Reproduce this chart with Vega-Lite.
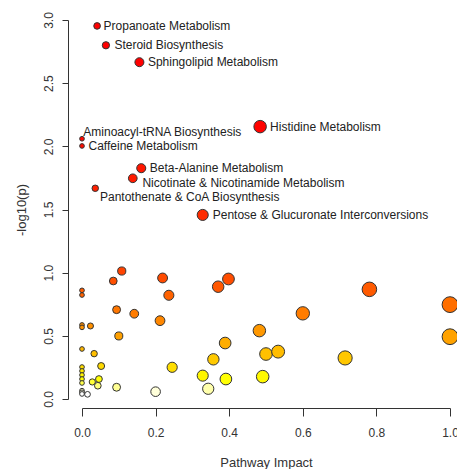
{
  "$schema": "https://vega.github.io/schema/vega-lite/v6.json",
  "autosize": "none",
  "width": 368,
  "height": 379,
  "padding": {"left": 82, "top": 20, "right": 7, "bottom": 70},
  "background": "white",
  "config": {
    "view": {"stroke": null},
    "font": "Liberation Sans",
    "axis": {
      "grid": false,
      "labelFlush": false,
      "labelOverlap": false,
      "domainColor": "#333333",
      "tickColor": "#333333",
      "labelColor": "#333333",
      "titleColor": "#333333",
      "labelFont": "Liberation Sans",
      "titleFont": "Liberation Sans",
      "labelFontSize": 12,
      "titleFontSize": 13,
      "titleFontWeight": "normal",
      "domainWidth": 1,
      "tickWidth": 1
    }
  },
  "data": {
    "values": [
      {"name": "Propanoate Metabolism", "impact": 0.041, "logp": 2.953},
      {"name": "Steroid Biosynthesis", "impact": 0.065, "logp": 2.8},
      {"name": "Sphingolipid Metabolism", "impact": 0.156, "logp": 2.666},
      {"name": "Histidine Metabolism", "impact": 0.484, "logp": 2.156},
      {"name": "Aminoacyl-tRNA Biosynthesis", "impact": 0.0, "logp": 2.06},
      {"name": "Caffeine Metabolism", "impact": 0.0, "logp": 2.003},
      {"name": "Beta-Alanine Metabolism", "impact": 0.161, "logp": 1.827},
      {"name": "Nicotinate & Nicotinamide Metabolism", "impact": 0.138, "logp": 1.747},
      {"name": "Pantothenate & CoA Biosynthesis", "impact": 0.036, "logp": 1.668},
      {"name": "Pentose & Glucuronate Interconversions", "impact": 0.328, "logp": 1.457},
      {"name": "", "impact": 0.085, "logp": 0.934},
      {"name": "", "impact": 0.108, "logp": 1.013},
      {"name": "", "impact": 0.219, "logp": 0.958},
      {"name": "", "impact": 0.236, "logp": 0.821},
      {"name": "", "impact": 0.0, "logp": 0.86},
      {"name": "", "impact": 0.0, "logp": 0.823},
      {"name": "", "impact": 0.094, "logp": 0.707},
      {"name": "", "impact": 0.142, "logp": 0.675},
      {"name": "", "impact": 0.212, "logp": 0.62},
      {"name": "", "impact": 0.0, "logp": 0.586},
      {"name": "", "impact": 0.0, "logp": 0.567},
      {"name": "", "impact": 0.023, "logp": 0.578},
      {"name": "", "impact": 0.1, "logp": 0.499},
      {"name": "", "impact": 0.0, "logp": 0.396},
      {"name": "", "impact": 0.033, "logp": 0.359},
      {"name": "", "impact": 0.052, "logp": 0.261},
      {"name": "", "impact": 0.245, "logp": 0.251},
      {"name": "", "impact": 0.0, "logp": 0.253},
      {"name": "", "impact": 0.0, "logp": 0.222},
      {"name": "", "impact": 0.0, "logp": 0.19},
      {"name": "", "impact": 0.0, "logp": 0.158},
      {"name": "", "impact": 0.0, "logp": 0.127},
      {"name": "", "impact": 0.028, "logp": 0.135},
      {"name": "", "impact": 0.046, "logp": 0.158},
      {"name": "", "impact": 0.043, "logp": 0.105},
      {"name": "", "impact": 0.094, "logp": 0.093},
      {"name": "", "impact": 0.2, "logp": 0.058},
      {"name": "", "impact": 0.015, "logp": 0.037},
      {"name": "", "impact": 0.0, "logp": 0.066},
      {"name": "", "impact": 0.0, "logp": 0.053},
      {"name": "", "impact": 0.0, "logp": 0.04},
      {"name": "", "impact": 0.37, "logp": 0.889},
      {"name": "", "impact": 0.398, "logp": 0.95},
      {"name": "", "impact": 0.389, "logp": 0.443},
      {"name": "", "impact": 0.357, "logp": 0.314},
      {"name": "", "impact": 0.328, "logp": 0.185},
      {"name": "", "impact": 0.343, "logp": 0.081},
      {"name": "", "impact": 0.391, "logp": 0.158},
      {"name": "", "impact": 0.482, "logp": 0.541},
      {"name": "", "impact": 0.5, "logp": 0.356},
      {"name": "", "impact": 0.533, "logp": 0.375},
      {"name": "", "impact": 0.491, "logp": 0.177},
      {"name": "", "impact": 0.6, "logp": 0.678},
      {"name": "", "impact": 0.715, "logp": 0.325},
      {"name": "", "impact": 0.781, "logp": 0.868},
      {"name": "", "impact": 1.0, "logp": 0.747},
      {"name": "", "impact": 1.0, "logp": 0.493}
    ]
  },
  "encoding": {
    "x": {
      "field": "impact", "type": "quantitative",
      "scale": {"domain": [0, 1], "nice": false, "zero": false},
      "axis": {"title": "Pathway Impact", "values": [0, 0.2, 0.4, 0.6, 0.8, 1.0], "format": ".1f", "offset": 9, "tickSize": 8, "labelPadding": 11, "titlePadding": 18}
    },
    "y": {
      "field": "logp", "type": "quantitative",
      "scale": {"domain": [0, 3], "nice": false, "zero": false},
      "axis": {"title": "-log10(p)", "values": [0, 0.5, 1.0, 1.5, 2.0, 2.5, 3.0], "format": ".1f", "offset": 14, "tickSize": 6, "labelAngle": -90, "labelAlign": "center", "labelBaseline": "bottom", "labelPadding": 7, "titlePadding": 14}
    }
  },
  "layer": [
    {
      "mark": {"type": "circle", "opacity": 1, "stroke": "#333333", "strokeWidth": 1, "clip": false},
      "encoding": {
        "size": {"field": "impact", "type": "quantitative", "scale": {"type": "pow", "exponent": 0.73, "domain": [0, 1], "range": [22, 250]}, "legend": null},
        "color": {"field": "logp", "type": "quantitative", "legend": null,
          "scale": {"domain": [0.04, 0.09, 0.16, 0.3, 0.5, 0.7, 1.0, 1.5, 2.2, 3.0],
                    "range": ["#FFFFFF", "#FFFF99", "#FFFF00", "#FFCC00", "#FFA000", "#FF7700", "#FF4400", "#FF2A00", "#FF0000", "#FF0000"],
                    "interpolate": "rgb"}}
      }
    },
    {
      "transform": [{"filter": {"field": "name", "oneOf": ["Propanoate Metabolism", "Caffeine Metabolism"]}}],
      "mark": {"type": "text", "align": "left", "baseline": "middle", "dx": 6.5, "fontSize": 12, "font": "Liberation Sans", "color": "#222222"},
      "encoding": {"text": {"field": "name"}}
    },
    {
      "transform": [{"filter": {"field": "name", "oneOf": ["Steroid Biosynthesis", "Sphingolipid Metabolism", "Beta-Alanine Metabolism"]}}],
      "mark": {"type": "text", "align": "left", "baseline": "middle", "dx": 8.5, "fontSize": 12, "font": "Liberation Sans", "color": "#222222"},
      "encoding": {"text": {"field": "name"}}
    },
    {
      "transform": [{"filter": {"field": "name", "oneOf": ["Histidine Metabolism", "Pentose & Glucuronate Interconversions"]}}],
      "mark": {"type": "text", "align": "left", "baseline": "middle", "dx": 10, "fontSize": 12, "font": "Liberation Sans", "color": "#222222"},
      "encoding": {"text": {"field": "name"}}
    },
    {
      "transform": [{"filter": {"field": "name", "equal": "Aminoacyl-tRNA Biosynthesis"}}],
      "mark": {"type": "text", "align": "left", "baseline": "middle", "dx": 1.3, "dy": -6.7, "fontSize": 12, "font": "Liberation Sans", "color": "#222222"},
      "encoding": {"text": {"field": "name"}}
    },
    {
      "transform": [{"filter": {"field": "name", "equal": "Nicotinate & Nicotinamide Metabolism"}}],
      "mark": {"type": "text", "align": "left", "baseline": "middle", "dx": 9.6, "dy": 4.7, "fontSize": 12, "font": "Liberation Sans", "color": "#222222"},
      "encoding": {"text": {"field": "name"}}
    },
    {
      "transform": [{"filter": {"field": "name", "equal": "Pantothenate & CoA Biosynthesis"}}],
      "mark": {"type": "text", "align": "left", "baseline": "middle", "dx": 4.7, "dy": 8.7, "fontSize": 12, "font": "Liberation Sans", "color": "#222222"},
      "encoding": {"text": {"field": "name"}}
    }
  ]
}
